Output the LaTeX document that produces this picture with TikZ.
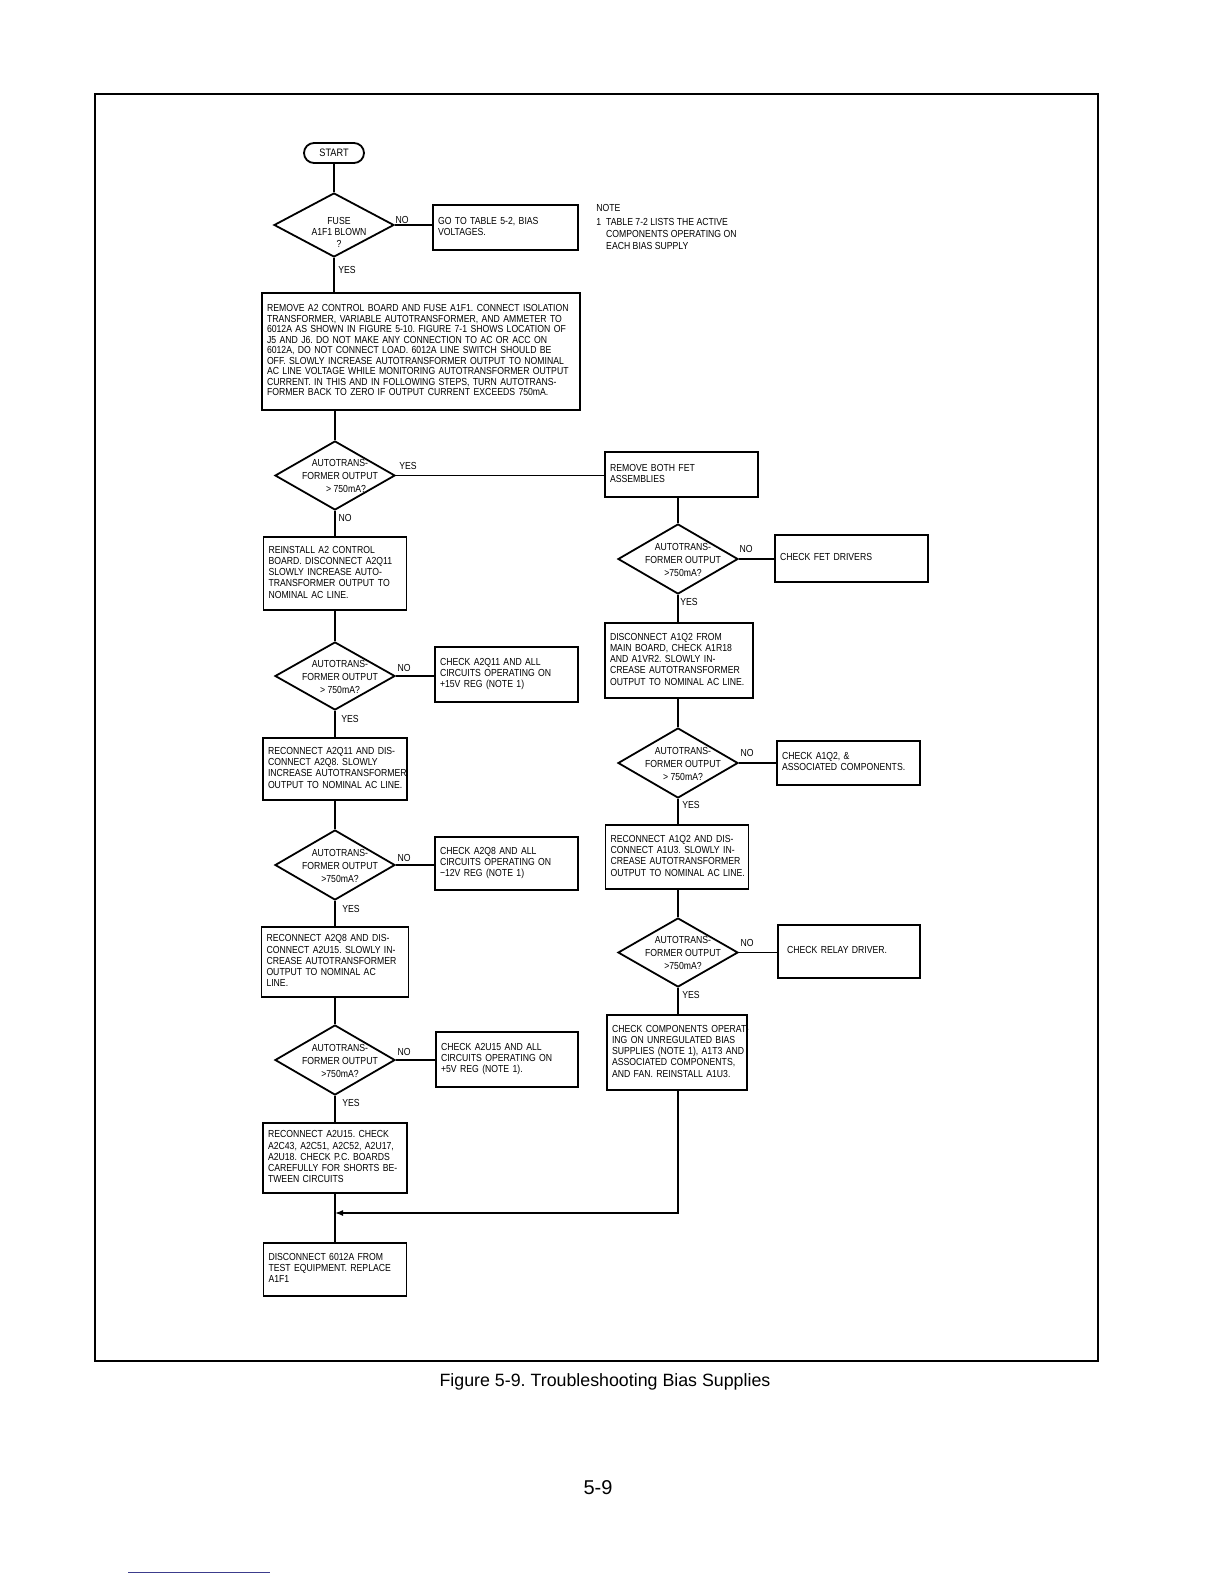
\documentclass[tikz,border=0pt]{standalone}
\usepackage{fontspec}
\setmainfont{Liberation Sans}[FakeStretch=0.85]
\newfontfamily\capfont{Liberation Sans}
\usetikzlibrary{shapes.geometric,arrows.meta}
\frenchspacing
\newcommand{\bt}[1]{\begin{tabular}{@{}l@{}}#1\end{tabular}}
\newcommand{\dtxt}[2][-2pt]{\smash{\makebox[0pt]{\hspace{5pt}\raisebox{#1}{\begin{tabular}{@{}c@{}}#2\end{tabular}}}}}
\begin{document}
\begin{tikzpicture}[x=0.5pt,y=-0.5pt,
  box/.style={draw,rectangle,line width=0.9pt,inner xsep=2.5pt,inner ysep=1pt,align=left,
    font=\fontsize{5.1}{5.6}\selectfont},
  dia/.style={draw,diamond,line width=0.9pt,inner sep=0pt,minimum width=60pt,minimum height=34pt,
    font=\fontsize{5.1}{6.5}\selectfont},
  term/.style={draw,rectangle,rounded corners=5pt,line width=0.9pt,minimum width=30pt,minimum height=10pt,
    inner sep=0pt,font=\fontsize{5.4}{6}\selectfont},
  conn/.style={line width=0.7pt},
  lab/.style={inner sep=0pt,font=\fontsize{5.1}{6}\selectfont},
  frame/.style={line width=1.2pt}
]
\fill[white] (0,0) rectangle (1224,1584);
\useasboundingbox (0,0) rectangle (1224,1584);
\draw[frame] (95,94) rectangle (1098,1361);

% left column
\node[term] (start) at (334,153) {START};
\node[dia,minimum height=32pt,font=\fontsize{5.1}{5.8}\selectfont] (d1) at (334,225) {\dtxt[-5.5pt]{FUSE\\A1F1 BLOWN\\?}};
\node[box,minimum width=72.5pt,minimum height=22.5pt,text width=67.5pt] (go) at (505.5,227.5)
  {\bt{GO TO TABLE 5-2, BIAS\\VOLTAGES.}};
\node[box,minimum width=159pt,minimum height=58.5pt,text width=154pt,font=\fontsize{5.1}{5.25}\selectfont] (remove) at (421,351.5)
  {\bt{REMOVE A2 CONTROL BOARD AND FUSE A1F1. CONNECT ISOLATION\\
  TRANSFORMER, VARIABLE AUTOTRANSFORMER, AND AMMETER TO\\
  6012A AS SHOWN IN FIGURE 5-10. FIGURE 7-1 SHOWS LOCATION OF\\
  J5 AND J6. DO NOT MAKE ANY CONNECTION TO AC OR ACC ON\\
  6012A, DO NOT CONNECT LOAD. 6012A LINE SWITCH SHOULD BE\\
  OFF. SLOWLY INCREASE AUTOTRANSFORMER OUTPUT TO NOMINAL\\
  AC LINE VOLTAGE WHILE MONITORING AUTOTRANSFORMER OUTPUT\\
  CURRENT. IN THIS AND IN FOLLOWING STEPS, TURN AUTOTRANS-\\
  FORMER BACK TO ZERO IF OUTPUT CURRENT EXCEEDS 750mA.}};
\node[dia,minimum height=34.5pt] (d2) at (335,475.5) {\dtxt{AUTOTRANS-\\FORMER OUTPUT\\\hspace{6pt}> 750mA?}};
\node[box,minimum width=71.5pt,minimum height=36.5pt,text width=66.5pt] (reinstall) at (335,573.5)
  {\bt{REINSTALL A2 CONTROL\\BOARD. DISCONNECT A2Q11\\SLOWLY INCREASE AUTO-\\TRANSFORMER OUTPUT TO\\NOMINAL AC LINE.}};
\node[dia] (dL3) at (335,676) {\dtxt{AUTOTRANS-\\FORMER OUTPUT\\> 750mA?}};
\node[box,minimum width=71.5pt,minimum height=27.5pt,text width=66.5pt] (chkA2Q11) at (506.5,674.5)
  {\bt{CHECK A2Q11 AND ALL\\CIRCUITS OPERATING ON\\+15V REG (NOTE 1)}};
\node[box,minimum width=72pt,minimum height=31pt,text width=67pt] (recA2Q11) at (335,769)
  {\bt{RECONNECT A2Q11 AND DIS-\\CONNECT A2Q8. SLOWLY\\INCREASE AUTOTRANSFORMER\\OUTPUT TO NOMINAL AC LINE.}};
\node[dia,minimum height=35pt] (dL4) at (335,865) {\dtxt{AUTOTRANS-\\FORMER OUTPUT\\>750mA?}};
\node[box,minimum width=71.5pt,minimum height=26.5pt,text width=66.5pt] (chkA2Q8) at (506.5,863.5)
  {\bt{CHECK A2Q8 AND ALL\\CIRCUITS OPERATING ON\\−12V REG (NOTE 1)}};
\node[box,minimum width=73.5pt,minimum height=35pt,text width=68.5pt] (recA2Q8) at (335,962)
  {\bt{RECONNECT A2Q8 AND DIS-\\CONNECT A2U15. SLOWLY IN-\\CREASE AUTOTRANSFORMER\\OUTPUT TO NOMINAL AC\\LINE.}};
\node[dia,minimum height=35pt] (dL5) at (335,1060) {\dtxt{AUTOTRANS-\\FORMER OUTPUT\\>750mA?}};
\node[box,minimum width=71pt,minimum height=27.5pt,text width=66pt] (chkA2U15) at (507,1059.5)
  {\bt{CHECK A2U15 AND ALL\\CIRCUITS OPERATING ON\\+5V REG (NOTE 1).}};
\node[box,minimum width=72pt,minimum height=35pt,text width=67pt] (recA2U15) at (335,1158)
  {\bt{RECONNECT A2U15. CHECK\\A2C43, A2C51, A2C52, A2U17,\\A2U18. CHECK P.C. BOARDS\\CAREFULLY FOR SHORTS BE-\\TWEEN CIRCUITS}};
\node[box,minimum width=71.5pt,minimum height=26.5pt,text width=66.5pt] (disc) at (335,1269.5)
  {\bt{DISCONNECT 6012A FROM\\TEST EQUIPMENT. REPLACE\\A1F1}};

% right column
\node[box,minimum width=76.5pt,minimum height=22.5pt,text width=71.5pt] (fet) at (681.5,474.5)
  {\bt{REMOVE BOTH FET\\ASSEMBLIES}};
\node[dia,minimum height=35pt] (dR1) at (678,559) {\dtxt{AUTOTRANS-\\FORMER OUTPUT\\>750mA?}};
\node[box,minimum width=76.5pt,minimum height=23.5pt,text width=71.5pt] (fetdrv) at (851.5,558.5)
  {\bt{CHECK FET DRIVERS}};
\node[box,minimum width=74pt,minimum height=37.5pt,text width=69pt] (disA1Q2) at (679,660.5)
  {\bt{DISCONNECT A1Q2 FROM\\MAIN BOARD, CHECK A1R18\\AND A1VR2. SLOWLY IN-\\CREASE AUTOTRANSFORMER\\OUTPUT TO NOMINAL AC LINE.}};
\node[dia,minimum height=35pt] (dR2) at (678,763) {\dtxt{AUTOTRANS-\\FORMER OUTPUT\\> 750mA?}};
\node[box,minimum width=71.5pt,minimum height=22pt,text width=66.5pt] (chkA1Q2) at (848.5,763)
  {\bt{CHECK A1Q2, \&\\ASSOCIATED COMPONENTS.}};
\node[box,minimum width=71.5pt,minimum height=32pt,text width=66.5pt] (recA1Q2) at (677,857)
  {\bt{RECONNECT A1Q2 AND DIS-\\CONNECT A1U3. SLOWLY IN-\\CREASE AUTOTRANSFORMER\\OUTPUT TO NOMINAL AC LINE.}};
\node[dia,minimum height=34.5pt] (dR3) at (678,952.5) {\dtxt{AUTOTRANS-\\FORMER OUTPUT\\>750mA?}};
\node[box,minimum width=71pt,minimum height=26.5pt,text width=66pt] (relay) at (849,951.5)
  {\bt{\hspace{2pt}CHECK RELAY DRIVER.}};
\node[box,minimum width=70pt,minimum height=37.5pt,text width=65pt] (chkcomp) at (677,1052.5)
  {\bt{CHECK COMPONENTS OPERAT-\\ING ON UNREGULATED BIAS\\SUPPLIES (NOTE 1), A1T3 AND\\ASSOCIATED COMPONENTS,\\AND FAN. REINSTALL A1U3.}};

% note
\node[lab,anchor=north west,font=\fontsize{5.1}{6}\selectfont] (note) at (596,203)
  {\begin{tabular}{@{}l@{\hspace{2.5pt}}l@{}}\multicolumn{2}{@{}l@{}}{NOTE}\\[1pt]
   1 & TABLE 7-2 LISTS THE ACTIVE\\ & COMPONENTS OPERATING ON\\ & EACH BIAS SUPPLY\end{tabular}};

% connectors
\draw[conn] (start.south) -- (start.south |- d1.north);
\draw[conn] (d1.east) -- (d1.east -| go.west);
\draw[conn] (d1.south) -- (d1.south |- remove.north);
\draw[conn] (d2.north |- remove.south) -- (d2.north);
\draw[conn] (d2.east) -- (d2.east -| fet.west);
\draw[conn] (d2.south) -- (d2.south |- reinstall.north);
\draw[conn] (dL3.north |- reinstall.south) -- (dL3.north);
\draw[conn] (dL3.east) -- (dL3.east -| chkA2Q11.west);
\draw[conn] (dL3.south) -- (dL3.south |- recA2Q11.north);
\draw[conn] (dL4.north |- recA2Q11.south) -- (dL4.north);
\draw[conn] (dL4.east) -- (dL4.east -| chkA2Q8.west);
\draw[conn] (dL4.south) -- (dL4.south |- recA2Q8.north);
\draw[conn] (dL5.north |- recA2Q8.south) -- (dL5.north);
\draw[conn] (dL5.east) -- (dL5.east -| chkA2U15.west);
\draw[conn] (dL5.south) -- (dL5.south |- recA2U15.north);
\draw[conn] (recA2U15.south) -- (recA2U15.south |- disc.north);

\draw[conn] (dR1.north |- fet.south) -- (dR1.north);
\draw[conn] (dR1.east) -- (dR1.east -| fetdrv.west);
\draw[conn] (dR1.south) -- (dR1.south |- disA1Q2.north);
\draw[conn] (dR2.north |- disA1Q2.south) -- (dR2.north);
\draw[conn] (dR2.east) -- (dR2.east -| chkA1Q2.west);
\draw[conn] (dR2.south) -- (dR2.south |- recA1Q2.north);
\draw[conn] (dR3.north |- recA1Q2.south) -- (dR3.north);
\draw[conn] (dR3.east) -- (dR3.east -| relay.west);
\draw[conn] (dR3.south) -- (dR3.south |- chkcomp.north);
\coordinate (j) at (335,1213);
\draw[conn,-{Latex[length=4pt,width=3pt]}] (dR3.south |- chkcomp.south) |- (j);

% labels
\node[lab] (l1) at (402,220) {NO};
\node[lab] (l2) at (347,270) {YES};
\node[lab] (l3) at (408,466) {YES};
\node[lab] (l4) at (345,518) {NO};
\node[lab] (l5) at (746,549) {NO};
\node[lab] (l6) at (689,602) {YES};
\node[lab] (l7) at (404,668) {NO};
\node[lab] (l8) at (350,719) {YES};
\node[lab] (l9) at (747,753) {NO};
\node[lab] (l10) at (691,805) {YES};
\node[lab] (l11) at (404,858) {NO};
\node[lab] (l12) at (351,909) {YES};
\node[lab] (l13) at (747,943) {NO};
\node[lab] (l14) at (691,995) {YES};
\node[lab] (l15) at (404,1052) {NO};
\node[lab] (l16) at (351,1103) {YES};

% page texts
\node[inner sep=0pt,font=\capfont\fontsize{8.9}{10}\selectfont] (cap) at (605,1382) {Figure 5-9. Troubleshooting Bias Supplies};
\node[inner sep=0pt,font=\capfont\fontsize{10}{12}\selectfont] (pg) at (598,1488) {5-9};
\draw[line width=0.5pt,draw={rgb,255:red,60;green,60;blue,140}] (128,1572) -- (270,1572);
\end{tikzpicture}
\end{document}
